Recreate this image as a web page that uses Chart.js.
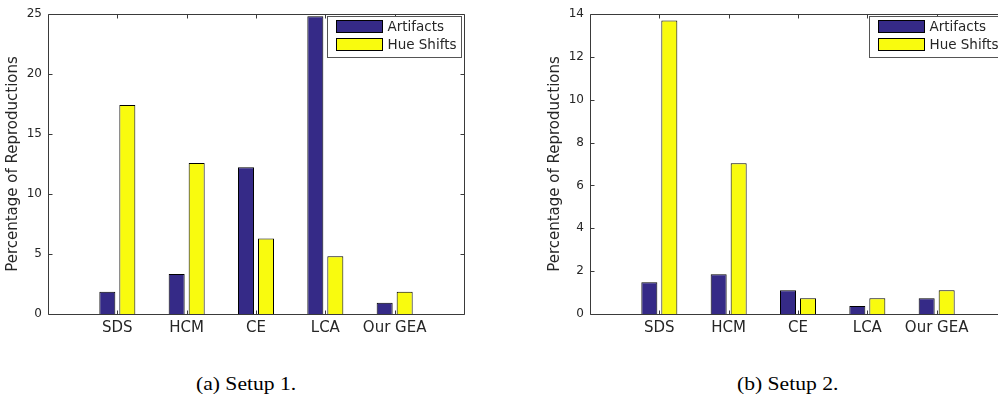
<!DOCTYPE html>
<html>
<head>
<meta charset="utf-8">
<script src="https://cdn.jsdelivr.net/npm/chart.js@4.4.0/dist/chart.umd.min.js"></script>
<style>
  html, body { margin: 0; padding: 0; background: #fff; overflow: hidden; width: 998px; height: 394px; }
  .panel { position: absolute; top: 0; width: 500px; height: 345px; }
  .caption { position: absolute; top: 373px; font-family: "Liberation Serif", "Times New Roman", serif;
             font-size: 18px; color: #000; white-space: nowrap; line-height: 22px;
             transform: scaleX(1.2); transform-origin: left center; }
</style>
</head>
<body>
<div class="panel" style="left:0"><canvas id="setup1" width="500" height="345"></canvas></div>
<div class="panel" style="left:542px"><canvas id="setup2" width="500" height="345"></canvas></div>
<div class="caption" id="cap1" style="left:196px">(a) Setup 1.</div>
<div class="caption" id="cap2" style="left:737px">(b) Setup 2.</div>
<script>
// Methods compared, and share of reproductions showing each defect (%)
const categories = ['SDS', 'HCM', 'CE', 'LCA', 'Our GEA'];
const seriesNames = ['Artifacts', 'Hue Shifts'];

const artifactsSetup1 = [1.85, 3.33, 12.22, 24.81, 0.93];
const hueShiftsSetup1 = [17.41, 12.59, 6.30, 4.81, 1.85];

const artifactsSetup2 = [1.48, 1.85, 1.11, 0.37, 0.74];
const hueShiftsSetup2 = [13.70, 7.04, 0.74, 0.74, 1.11];

// y-axis ranges and tick steps
const yMaxSetup1 = 25, yStepSetup1 = 5;
const yMaxSetup2 = 14, yStepSetup2 = 2;

const yTitle = 'Percentage of Reproductions';

const TEXT = '#262626';
const AXIS = '#3a3a3a';
const NAVY = '#352a87';
const YELLOW = '#f9fb0e';

// Box outline, inward tick marks on all four sides, and the boxed legend
const framePlugin = {
  id: 'frame',
  afterDraw(chart) {
    const { ctx, chartArea: a, scales: { x, y } } = chart;
    ctx.save();
    ctx.strokeStyle = AXIS;
    ctx.lineWidth = 1;
    const L = Math.round(a.left) + 0.5, R = Math.round(a.right) + 0.5;
    const T = Math.round(a.top) + 0.5, B = Math.round(a.bottom) + 0.5;
    ctx.beginPath();
    ctx.rect(L, T, R - L, B - T);
    const tl = 4;
    y.ticks.forEach(t => {
      const py = Math.round(y.getPixelForValue(t.value)) + 0.5;
      ctx.moveTo(L, py); ctx.lineTo(L + tl, py);
      ctx.moveTo(R, py); ctx.lineTo(R - tl, py);
    });
    categories.forEach((c, i) => {
      const px = Math.round(x.getPixelForValue(i + 1)) + 0.5;
      ctx.moveTo(px, B); ctx.lineTo(px, B - tl);
      ctx.moveTo(px, T); ctx.lineTo(px, T + tl);
    });
    ctx.stroke();

    // legend
    const bw = 134, bh = 41;
    const bx = Math.round(a.right) - 3 - bw + 0.5, by = Math.round(a.top) + 2.5;
    ctx.fillStyle = '#fff';
    ctx.fillRect(bx, by, bw, bh);
    ctx.strokeStyle = '#555';
    ctx.strokeRect(bx, by, bw, bh);
    ctx.font = '13.5px "DejaVu Sans"';
    ctx.textBaseline = 'middle';
    chart.data.datasets.forEach((ds, i) => {
      const sy = by + 4 + i * 18;
      ctx.fillStyle = ds.backgroundColor;
      ctx.fillRect(bx + 9, sy, 46, 12);
      ctx.strokeStyle = '#000';
      ctx.strokeRect(bx + 9, sy, 46, 12);
      ctx.fillStyle = TEXT;
      ctx.fillText(ds.label, bx + 60, sy + 6.5);
    });
    ctx.restore();
  }
};

function makeChart(id, artifacts, hueShifts, yMax, yStep) {
  const toPoints = arr => arr.map((v, i) => ({ x: i + 1, y: v }));
  const barStyle = { borderColor: '#000', borderWidth: 1, categoryPercentage: 0.577, barPercentage: 0.8 };
  return new Chart(document.getElementById(id), {
    type: 'bar',
    data: {
      datasets: [
        Object.assign({ label: seriesNames[0], data: toPoints(artifacts), backgroundColor: NAVY }, barStyle),
        Object.assign({ label: seriesNames[1], data: toPoints(hueShifts), backgroundColor: YELLOW }, barStyle)
      ]
    },
    options: {
      responsive: false,
      animation: false,
      layout: { padding: { top: 14, left: 0, right: 36, bottom: 0 } },
      plugins: { legend: { display: false }, tooltip: { enabled: false } },
      scales: {
        x: {
          type: 'linear',
          offset: false,
          min: 0, max: 6,
          grid: { display: false, drawTicks: false },
          border: { display: false },
          ticks: {
            stepSize: 1, autoSkip: false, maxRotation: 0, padding: 5,
            color: TEXT, font: { family: 'DejaVu Sans', size: 15 },
            callback: v => categories[v - 1] ?? ''
          },
          afterFit: s => { s.height = 31; }
        },
        y: {
          min: 0, max: yMax,
          grid: { display: false, drawTicks: false },
          border: { display: false },
          ticks: { stepSize: yStep, padding: 6, color: TEXT, font: { family: 'DejaVu Sans', size: 12 } },
          title: { display: true, text: yTitle, color: TEXT, padding: { top: 4, bottom: 0 },
                   font: { family: 'DejaVu Sans', size: 15 } },
          afterFit: s => { s.width = 48; }
        }
      }
    },
    plugins: [framePlugin]
  });
}

makeChart('setup1', artifactsSetup1, hueShiftsSetup1, yMaxSetup1, yStepSetup1);
makeChart('setup2', artifactsSetup2, hueShiftsSetup2, yMaxSetup2, yStepSetup2);
</script>
</body>
</html>
